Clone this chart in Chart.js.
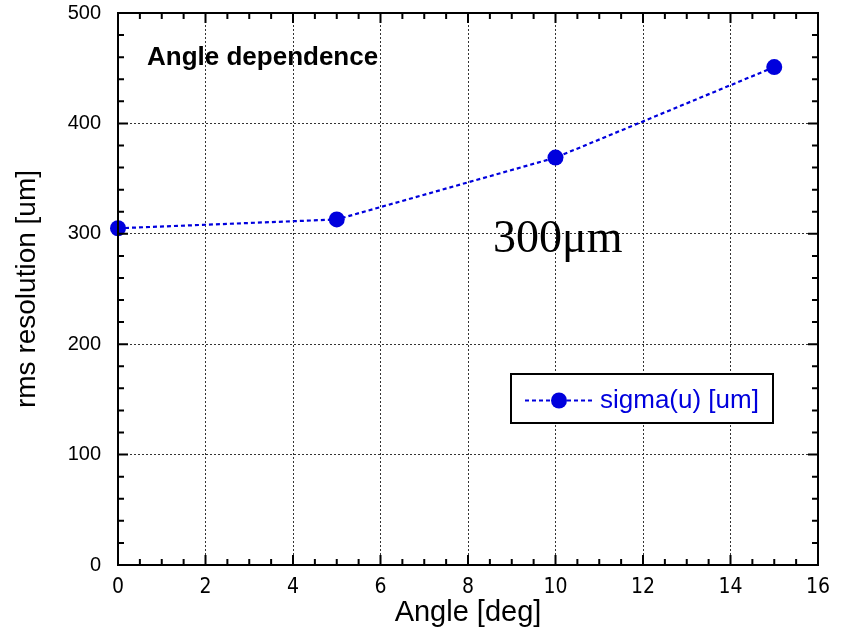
<!DOCTYPE html>
<html>
<head>
<meta charset="utf-8">
<script src="https://cdn.jsdelivr.net/npm/chart.js@4"></script>
<style>
  html, body { margin: 0; padding: 0; background: #fff; }
  #wrap { width: 850px; height: 634px; }
</style>
</head>
<body>
<div id="wrap"><canvas id="angleChart" width="850" height="634"></canvas></div>
<script>
// valeurs
const angles = [0, 5, 10, 15];
const sigmaU = [305, 313, 369, 451];
const seriesLabel = 'sigma(u) [um]';
const xTicks = [0, 2, 4, 6, 8, 10, 12, 14, 16];
const yTicks = [0, 100, 200, 300, 400, 500];
const titleText = 'Angle dependence';
const noteText = '300\u03bcm';

const blue = '#0000dd';
const narrowFont = "'Liberation Sans Narrow', 'DejaVu Sans Condensed', sans-serif";
const sansFont = "'Liberation Sans', Arial, sans-serif";

// cadre, petites graduations vers l'intérieur, textes et légende
const framePlugin = {
    id: 'frame',
    afterDraw(chart) {
        const c = chart.ctx;
        const a = chart.chartArea;
        const xs = chart.scales.x, ys = chart.scales.y;
        c.save();
        c.strokeStyle = '#000';
        c.lineWidth = 2;
        c.strokeRect(a.left, a.top, a.right - a.left, a.bottom - a.top);
        // graduations x (tous les 0.5)
        for (let v = 0; v <= 16.001; v += 0.5) {
            const px = xs.getPixelForValue(v);
            const len = (v % 2 === 0) ? 10 : 6;
            c.beginPath();
            c.moveTo(px, a.bottom); c.lineTo(px, a.bottom - len);
            c.moveTo(px, a.top); c.lineTo(px, a.top + len);
            c.stroke();
        }
        // graduations y (tous les 20)
        for (let v = 0; v <= 500; v += 20) {
            const py = ys.getPixelForValue(v);
            const len = (v % 100 === 0) ? 10 : 6;
            c.beginPath();
            c.moveTo(a.left, py); c.lineTo(a.left + len, py);
            c.moveTo(a.right, py); c.lineTo(a.right - len, py);
            c.stroke();
        }
        // titre
        c.fillStyle = '#000';
        c.font = "bold 26px " + sansFont;
        c.textBaseline = 'middle';
        c.textAlign = 'left';
        c.fillText(titleText, a.left + 29, 58);
        // note
        c.font = "46px 'Liberation Serif', 'DejaVu Serif', serif";
        c.textBaseline = 'alphabetic';
        c.fillText(noteText, 493, 252);
        // légende
        const lx = 511, ly = 374, lw = 262, lh = 49;
        c.fillStyle = '#fff';
        c.fillRect(lx, ly, lw, lh);
        c.strokeStyle = '#000';
        c.lineWidth = 2;
        c.strokeRect(lx, ly, lw, lh);
        const my = ly + lh / 2 + 2;
        c.strokeStyle = blue;
        c.lineWidth = 2;
        c.setLineDash([4, 3]);
        c.beginPath();
        c.moveTo(lx + 14, my); c.lineTo(lx + 82, my);
        c.stroke();
        c.setLineDash([]);
        c.fillStyle = blue;
        c.beginPath();
        c.arc(lx + 48, my, 8, 0, Math.PI * 2);
        c.fill();
        c.font = "26px " + sansFont;
        c.textBaseline = 'middle';
        c.fillText(seriesLabel, lx + 89, my);
        c.restore();
    }
};

const ctx = document.getElementById('angleChart').getContext('2d');
new Chart(ctx, {
    type: 'scatter',
    data: {
        datasets: [{
            label: seriesLabel,
            data: angles.map((x, i) => ({ x: x, y: sigmaU[i] })),
            showLine: true,
            borderColor: blue,
            borderWidth: 2.2,
            borderDash: [4, 3],
            backgroundColor: blue,
            pointBackgroundColor: blue,
            pointBorderWidth: 0,
            pointRadius: 8,
            clip: false
        }]
    },
    options: {
        responsive: false,
        animation: false,
        layout: { padding: { top: 13, right: 32, left: 0, bottom: 0 } },
        plugins: {
            legend: { display: false },
            tooltip: { enabled: false }
        },
        scales: {
            x: {
                type: 'linear',
                min: 0, max: 16,
                afterBuildTicks: s => { s.ticks = xTicks.map(v => ({ value: v })); },
                afterFit: s => { s.height = 69; s.paddingLeft = 0; s.paddingRight = 0; },
                grid: { color: '#333', lineWidth: 1, drawTicks: false },
                border: { display: false, dash: [2, 2] },
                ticks: { color: '#000', padding: 10, font: { family: narrowFont, size: 21 } },
                title: { display: true, text: 'Angle [deg]', color: '#000', padding: { top: 0 }, font: { family: sansFont, size: 29 } }
            },
            y: {
                type: 'linear',
                min: 0, max: 500,
                afterBuildTicks: s => { s.ticks = yTicks.map(v => ({ value: v })); },
                afterFit: s => { s.width = 118; s.paddingTop = 0; s.paddingBottom = 0; },
                grid: { color: '#333', lineWidth: 1, drawTicks: false },
                border: { display: false, dash: [2, 2] },
                ticks: { color: '#000', padding: 17, font: { family: sansFont, size: 20 } },
                title: { display: true, text: 'rms resolution [um]', color: '#000', padding: { top: 10, bottom: 0 }, font: { family: sansFont, size: 28 } }
            }
        }
    },
    plugins: [framePlugin]
});
</script>
</body>
</html>
